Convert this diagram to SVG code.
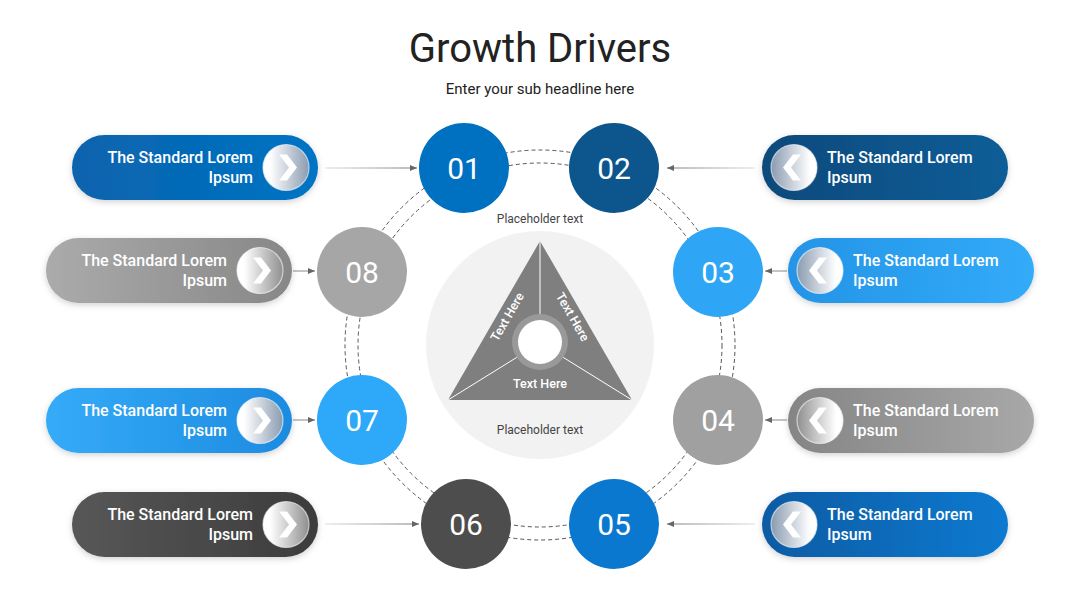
<svg xmlns="http://www.w3.org/2000/svg" width="1080" height="608" viewBox="0 0 1080 608">
<style>
.t{font-family:Roboto,"Liberation Sans",sans-serif}
.pt{font-family:Roboto,"Liberation Sans",sans-serif;font-size:16px;font-weight:500;fill:#fff}
.num{font-family:Roboto,"Liberation Sans",sans-serif;font-size:30px;fill:#fff;text-anchor:middle}
.ph{font-family:Roboto,"Liberation Sans",sans-serif;font-size:12px;fill:#444;text-anchor:middle}
.th{font-family:Roboto,"Liberation Sans",sans-serif;font-size:12.5px;fill:#fff;text-anchor:middle;font-weight:500}
.conn{stroke-width:1;fill:none;marker-end:url(#ah)}
.dash{fill:none;stroke:#555;stroke-width:1;stroke-dasharray:4 3}
.chev{fill:#fff}
.cc{stroke:#fff;stroke-opacity:0.6;stroke-width:1.2}
</style>
<defs>
<marker id="ah" markerWidth="8" markerHeight="8" refX="7" refY="4" orient="auto" markerUnits="userSpaceOnUse">
<path d="M0,1 L7,4 L0,7 Z" fill="#666"/>
</marker>
<filter id="sh" x="-20%" y="-30%" width="140%" height="160%">
<feDropShadow dx="0" dy="2" stdDeviation="3" flood-color="#000" flood-opacity="0.18"/>
</filter>
<linearGradient id="la" x1="0" x2="1"><stop offset="0" stop-color="#ddd"/><stop offset="1" stop-color="#777"/></linearGradient>
<linearGradient id="lb" x1="1" x2="0"><stop offset="0" stop-color="#ddd"/><stop offset="1" stop-color="#777"/></linearGradient>
<linearGradient id="g1" x1="0" x2="1"><stop offset="0" stop-color="#0a63ad"/><stop offset="1" stop-color="#0074c4"/></linearGradient>
<linearGradient id="g2" x1="0" x2="1"><stop offset="0" stop-color="#0c4a7c"/><stop offset="1" stop-color="#0e5d97"/></linearGradient>
<linearGradient id="g3" x1="0" x2="1"><stop offset="0" stop-color="#2594e6"/><stop offset="1" stop-color="#32abf9"/></linearGradient>
<linearGradient id="g4" x1="0" x2="1"><stop offset="0" stop-color="#858585"/><stop offset="1" stop-color="#a8a8a8"/></linearGradient>
<linearGradient id="g5" x1="0" x2="1"><stop offset="0" stop-color="#0a5ba3"/><stop offset="1" stop-color="#0a7ad0"/></linearGradient>
<linearGradient id="g6" x1="0" x2="1"><stop offset="0" stop-color="#575757"/><stop offset="1" stop-color="#3c3c3c"/></linearGradient>
<linearGradient id="g7" x1="0" x2="1"><stop offset="0" stop-color="#35abf8"/><stop offset="1" stop-color="#1d8be0"/></linearGradient>
<linearGradient id="g8" x1="0" x2="1"><stop offset="0" stop-color="#ababab"/><stop offset="1" stop-color="#878787"/></linearGradient>
<linearGradient id="cl" x1="0" x2="1"><stop offset="0.15" stop-color="#ffffff"/><stop offset="1" stop-color="#8a9bb0"/></linearGradient>
<linearGradient id="cr" x1="1" x2="0"><stop offset="0.15" stop-color="#ffffff"/><stop offset="1" stop-color="#8a9bb0"/></linearGradient>
<linearGradient id="clg" x1="0" x2="1"><stop offset="0.15" stop-color="#ffffff"/><stop offset="1" stop-color="#8f8f8f"/></linearGradient>
<linearGradient id="crg" x1="1" x2="0"><stop offset="0.15" stop-color="#ffffff"/><stop offset="1" stop-color="#8f8f8f"/></linearGradient>
<path id="chR" d="M-8,-13 L0,-13 L10,0 L0,13 L-8,13 L2,0 Z"/>
<path id="chL" d="M8,-13 L0,-13 L-10,0 L0,13 L8,13 L-2,0 Z"/>
</defs>
<rect width="1080" height="608" fill="#fff"/>

<text class="t" x="540" y="62" font-size="40" fill="#222" text-anchor="middle">Growth Drivers</text>
<text class="t" x="540" y="94" font-size="15" fill="#222" text-anchor="middle">Enter your sub headline here</text>

<g id="ring">
<circle class="dash" cx="540" cy="345" r="182"/>
<circle class="dash" cx="540" cy="345" r="195"/>
</g>

<g id="center">
<circle cx="540" cy="345" r="114" fill="#f2f2f2"/>
<path d="M540,241 L632,400 L448,400 Z" fill="#7f7f7f"/>
<path d="M540,241 L540,343 M448,400 L540,343 L632,400" stroke="#fff" stroke-width="1" fill="none"/>
<circle cx="540" cy="342" r="28" fill="#999"/>
<circle cx="540" cy="342" r="22" fill="#fff"/>
<text class="th" x="540" y="388">Text Here</text>
<text class="th" transform="translate(511,319) rotate(-60)">Text Here</text>
<text class="th" transform="translate(569,319) rotate(60)">Text Here</text>
<text class="ph" x="540" y="223">Placeholder text</text>
<text class="ph" x="540" y="434">Placeholder text</text>
</g>

<g id="connectors">
<line class="conn" stroke="url(#la)" x1="325" y1="168" x2="417" y2="168.01"/>
<line class="conn" stroke="url(#lb)" x1="755" y1="168" x2="667" y2="168.01"/>
<line class="conn" stroke="#888" x1="293" y1="271" x2="315" y2="271"/>
<line class="conn" stroke="#888" x1="787" y1="271" x2="765" y2="271"/>
<line class="conn" stroke="#888" x1="293" y1="420" x2="315" y2="420"/>
<line class="conn" stroke="#888" x1="787" y1="420" x2="765" y2="420"/>
<line class="conn" stroke="url(#la)" x1="325" y1="524" x2="419" y2="524.01"/>
<line class="conn" stroke="url(#lb)" x1="755" y1="524" x2="667" y2="524.01"/>
</g>

<g id="n01"><circle cx="464" cy="168" r="45" fill="#0070c0"/><text class="num" x="464" y="179">01</text></g>
<g id="n02"><circle cx="614" cy="168" r="45" fill="#0d568d"/><text class="num" x="614" y="179">02</text></g>
<g id="n03"><circle cx="718" cy="272" r="45" fill="#2ea6f5"/><text class="num" x="718" y="283">03</text></g>
<g id="n04"><circle cx="718" cy="420" r="45" fill="#a0a0a0"/><text class="num" x="718" y="431">04</text></g>
<g id="n05"><circle cx="614" cy="524" r="45" fill="#0a78cf"/><text class="num" x="614" y="535">05</text></g>
<g id="n06"><circle cx="466" cy="524" r="45" fill="#4d4d4d"/><text class="num" x="466" y="535">06</text></g>
<g id="n07"><circle cx="362" cy="420" r="45" fill="#2ea8f8"/><text class="num" x="362" y="431">07</text></g>
<g id="n08"><circle cx="362" cy="272" r="45" fill="#a6a6a6"/><text class="num" x="362" y="283">08</text></g>

<g id="p01">
<rect x="72" y="135" width="246" height="65" rx="32.5" fill="url(#g1)" filter="url(#sh)"/>
<circle class="cc" cx="286" cy="167.5" r="23" fill="url(#cl)"/>
<use href="#chR" x="287" y="167.5" class="chev"/>
<text class="pt" x="253" y="163" text-anchor="end">The Standard Lorem</text>
<text class="pt" x="253" y="183" text-anchor="end">Ipsum</text>
</g>
<g id="p02">
<rect x="762" y="135" width="246" height="65" rx="32.5" fill="url(#g2)" filter="url(#sh)"/>
<circle class="cc" cx="794" cy="167.5" r="23" fill="url(#cr)"/>
<use href="#chL" x="793" y="167.5" class="chev"/>
<text class="pt" x="827" y="163">The Standard Lorem</text>
<text class="pt" x="827" y="183">Ipsum</text>
</g>
<g id="p03">
<rect x="788" y="238" width="246" height="65" rx="32.5" fill="url(#g3)" filter="url(#sh)"/>
<circle class="cc" cx="820" cy="270.5" r="23" fill="url(#cr)"/>
<use href="#chL" x="819" y="270.5" class="chev"/>
<text class="pt" x="853" y="266">The Standard Lorem</text>
<text class="pt" x="853" y="286">Ipsum</text>
</g>
<g id="p04">
<rect x="788" y="388" width="246" height="65" rx="32.5" fill="url(#g4)" filter="url(#sh)"/>
<circle class="cc" cx="820" cy="420.5" r="23" fill="url(#crg)"/>
<use href="#chL" x="819" y="420.5" class="chev"/>
<text class="pt" x="853" y="416">The Standard Lorem</text>
<text class="pt" x="853" y="436">Ipsum</text>
</g>
<g id="p05">
<rect x="762" y="492" width="246" height="65" rx="32.5" fill="url(#g5)" filter="url(#sh)"/>
<circle class="cc" cx="794" cy="524.5" r="23" fill="url(#cr)"/>
<use href="#chL" x="793" y="524.5" class="chev"/>
<text class="pt" x="827" y="520">The Standard Lorem</text>
<text class="pt" x="827" y="540">Ipsum</text>
</g>
<g id="p06">
<rect x="72" y="492" width="246" height="65" rx="32.5" fill="url(#g6)" filter="url(#sh)"/>
<circle class="cc" cx="286" cy="524.5" r="23" fill="url(#clg)"/>
<use href="#chR" x="287" y="524.5" class="chev"/>
<text class="pt" x="253" y="520" text-anchor="end">The Standard Lorem</text>
<text class="pt" x="253" y="540" text-anchor="end">Ipsum</text>
</g>
<g id="p07">
<rect x="46" y="388" width="246" height="65" rx="32.5" fill="url(#g7)" filter="url(#sh)"/>
<circle class="cc" cx="260" cy="420.5" r="23" fill="url(#cl)"/>
<use href="#chR" x="261" y="420.5" class="chev"/>
<text class="pt" x="227" y="416" text-anchor="end">The Standard Lorem</text>
<text class="pt" x="227" y="436" text-anchor="end">Ipsum</text>
</g>
<g id="p08">
<rect x="46" y="238" width="246" height="65" rx="32.5" fill="url(#g8)" filter="url(#sh)"/>
<circle class="cc" cx="260" cy="270.5" r="23" fill="url(#clg)"/>
<use href="#chR" x="261" y="270.5" class="chev"/>
<text class="pt" x="227" y="266" text-anchor="end">The Standard Lorem</text>
<text class="pt" x="227" y="286" text-anchor="end">Ipsum</text>
</g>
</svg>
